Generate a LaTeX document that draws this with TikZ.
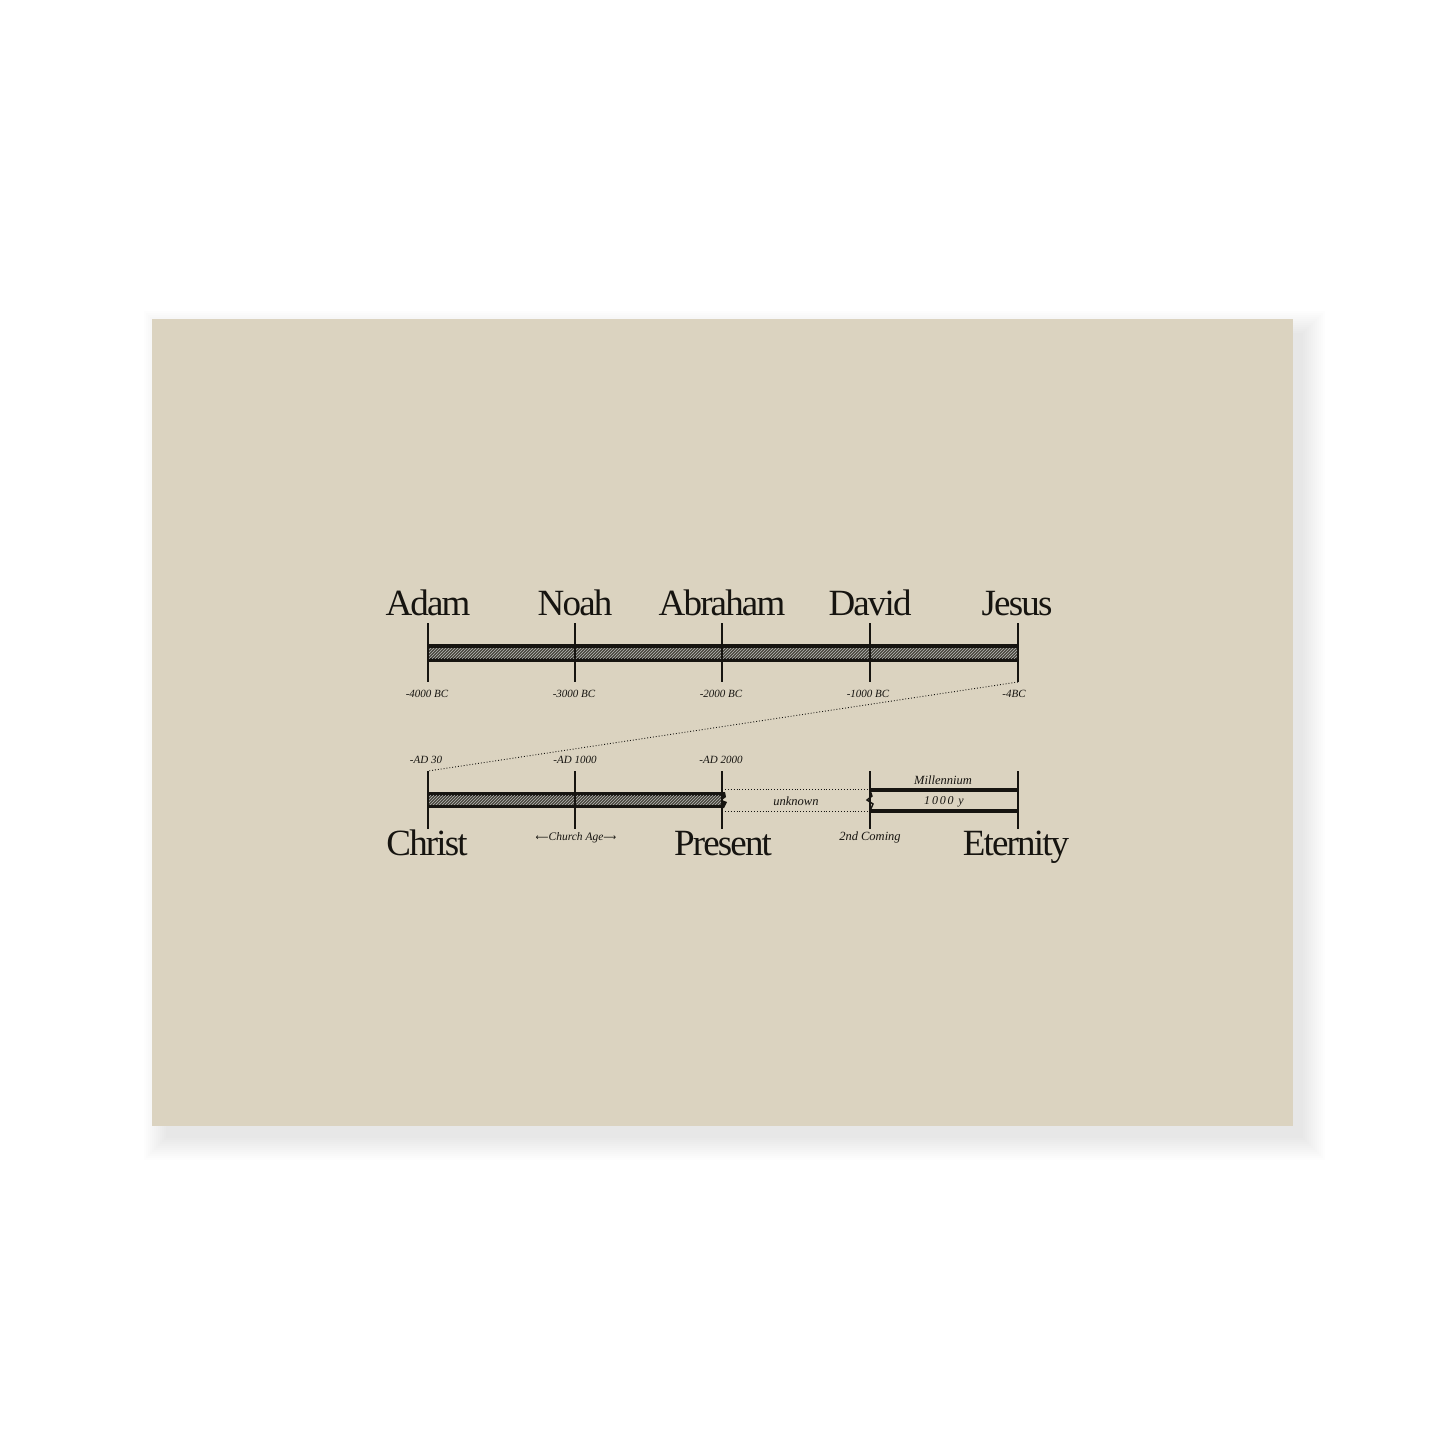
\documentclass[tikz,border=0pt]{standalone}
\usepackage{fontspec}
\setmainfont{Liberation Serif}
\newfontfamily\namefont[LetterSpace=-5]{Liberation Serif}
\newfontfamily\wideit[LetterSpace=15]{Liberation Serif}
\newfontfamily\arrowfont{DejaVu Sans}
\usetikzlibrary{patterns}
\definecolor{card}{RGB}{219,211,192}
\definecolor{barfill}{RGB}{72,70,60}
\definecolor{ink}{RGB}{22,20,16}
\begin{document}
\begin{tikzpicture}[x=1pt,y=-1pt,
  bigname/.style={font=\namefont\fontsize{37}{40}\selectfont, anchor=base, inner sep=0pt, text=ink},
  datelbl/.style={font=\itshape\fontsize{11}{12}\selectfont, anchor=base, inner sep=0pt, text=ink},
  itlbl/.style={font=\itshape\fontsize{12.5}{14}\selectfont, anchor=base, inner sep=0pt, text=ink},
  tick/.style={draw=ink, line width=2pt},
  barout/.style={fill=ink},
  barin/.style={fill=barfill},
  bartex/.style={pattern=north east lines, pattern color=gray!55},
  dots/.style={draw=ink, line width=0.9pt, dotted},
  thickline/.style={draw=ink, line width=4pt}]
\useasboundingbox (0,0) rectangle (1445,1445);
\fill[white] (0,0) rectangle (1445,1445);
% shadow
\foreach \i in {0,2,...,22}{
  \fill[black,opacity=0.008] (166-\i,333-\i) rectangle (1303+\i,1138+\i);
}
\fill[card] (152,319) rectangle (1293,1126);

% ---------- top timeline ----------
\coordinate (ta1) at (428,623); \coordinate (tb1) at (428,682);
\coordinate (ta2) at (575,623); \coordinate (tb2) at (575,682);
\coordinate (ta3) at (722,623); \coordinate (tb3) at (722,682);
\coordinate (ta4) at (870,623); \coordinate (tb4) at (870,682);
\coordinate (ta5) at (1018,623); \coordinate (tb5) at (1018,682);

\fill[barout] (428,644) rectangle (1018,662);
\fill[barin] (428,648) rectangle (1018,658);
\fill[bartex] (428,648) rectangle (1018,658);

\foreach \k in {1,...,5}{ \draw[tick] (ta\k) -- (tb\k); }

\node[bigname] (adam) at (428,615) {Adam};
\node[bigname] (noah) at (575,615) {Noah};
\node[bigname] (abraham) at (722,615) {Abraham};
\node[bigname] (david) at (870,615) {David};
\node[bigname] (jesus) at (1017,615) {Jesus};

\node[datelbl] (d1) at (427,697) {-4000 BC};
\node[datelbl] (d2) at (574,697) {-3000 BC};
\node[datelbl] (d3) at (721,697) {-2000 BC};
\node[datelbl] (d4) at (868,697) {-1000 BC};
\node[datelbl] (d5) at (1014,697) {-4BC};

% ---------- bottom timeline ----------
\coordinate (ba1) at (428,771); \coordinate (bb1) at (428,829);
\coordinate (ba2) at (575,771); \coordinate (bb2) at (575,829);
\coordinate (ba3) at (722,771); \coordinate (bb3) at (722,829);
\coordinate (ba4) at (870,771); \coordinate (bb4) at (870,829);
\coordinate (ba5) at (1018,771); \coordinate (bb5) at (1018,829);

\fill[barout] (428,792) rectangle (722,808);
\fill[barin] (428,795.5) rectangle (722,804.5);
\fill[bartex] (428,795.5) rectangle (722,804.5);
% broken end at present
\fill[ink] (722,792) -- (725,792) -- (726,797) -- (722,800) -- (727,802) -- (724,808) -- (722,808) -- cycle;

% unknown span
\draw[dots] (722,789) -- (870,789);
\draw[dots] (722,811) -- (870,811);

% millennium
\draw[thickline] (870,790) -- (1018,790);
\draw[thickline] (870,811) -- (1018,811);
\draw[draw=ink, line width=1.4pt] (870,790) -- (872,796) -- (867,800) -- (873,804) -- (870,811);

\foreach \k in {1,...,5}{ \draw[tick] (ba\k) -- (bb\k); }

% zoom connector
\draw[dots] (tb5) -- (ba1);

\node[datelbl] (ad30) at (426,763) {-AD 30};
\node[datelbl] (ad1000) at (575,763) {-AD 1000};
\node[datelbl] (ad2000) at (721,763) {-AD 2000};

\node[itlbl] (mill) at (943,784) {Millennium};
\node[font=\wideit\itshape\fontsize{12}{14}\selectfont, anchor=base, inner sep=0pt, text=ink] (yrs) at (944,804) {1000 y};
\node[itlbl] (unk) at (796,805) {unknown};
\node[itlbl] (second) at (870,840) {2nd Coming};
\node[datelbl, font=\itshape\fontsize{11.5}{13}\selectfont] (church) at (576,840) {{\arrowfont\upshape\fontsize{9}{12}\selectfont ⟵}Church Age{\arrowfont\upshape\fontsize{9}{12}\selectfont ⟶}};

\node[bigname] (christ) at (427,855) {Christ};
\node[bigname] (present) at (723,855) {Present};
\node[bigname] (eternity) at (1016,855) {Eternity};
\end{tikzpicture}
\end{document}
